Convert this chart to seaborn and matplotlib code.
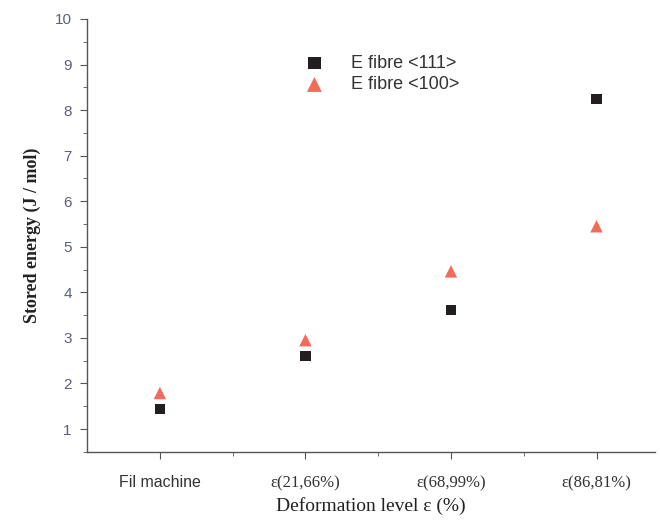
import pandas as pd
import numpy as np
import matplotlib.pyplot as plt
from matplotlib.ticker import MultipleLocator, FixedLocator
import seaborn as sns

# Data
levels = ['Fil machine', 'ε(21,66%)', 'ε(68,99%)', 'ε(86,81%)']
e_111 = [1.44, 2.60, 3.61, 8.25]
e_100 = [1.79, 2.95, 4.46, 5.45]
series = ['E fibre <111>', 'E fibre <100>']

pos = np.arange(1, len(levels) + 1)
df = pd.DataFrame({
    'pos': np.concatenate([pos, pos]),
    'energy': e_111 + e_100,
    'series': [series[0]] * len(levels) + [series[1]] * len(levels),
})

sns.set_style('ticks')
fig = plt.figure(figsize=(6.6, 5.26), dpi=100)
ax = fig.add_axes([0.132, 0.141, 0.86, 0.823])

styles = {series[0]: ('#231f20', 's', 55), series[1]: ('#f26b5b', '^', 80)}
for name in series:
    color, marker, size = styles[name]
    sns.scatterplot(data=df[df['series'] == name], x='pos', y='energy',
                    color=color, marker=marker, s=size, edgecolor='none',
                    label=name, ax=ax)

ax.set_xlim(0.5, 4.4)
ax.set_ylim(0.5, 10)
ax.xaxis.set_major_locator(FixedLocator(pos))
ax.xaxis.set_minor_locator(FixedLocator([1.5, 2.5, 3.5]))
ax.set_xticklabels(levels)
ax.set_yticks(np.arange(1, 11))
ax.yaxis.set_minor_locator(MultipleLocator(0.5))

for s in ['top', 'right']:
    ax.spines[s].set_visible(False)
for s in ['left', 'bottom']:
    ax.spines[s].set_color('#555555')
    ax.spines[s].set_linewidth(1.0)

ax.tick_params(axis='both', which='major', length=5, color='#555555')
ax.tick_params(axis='both', which='minor', length=3, color='#555555')
ax.tick_params(axis='y', labelsize=11, labelcolor='#5a5f7a', pad=6)
ax.tick_params(axis='x', labelsize=12, labelcolor='#333333', pad=12)
for lbl in ax.get_yticklabels():
    lbl.set_family('Liberation Sans')
for i, lbl in enumerate(ax.get_xticklabels()):
    if i == 0:
        lbl.set_family('Liberation Sans')
        lbl.set_size(11.5)
    else:
        lbl.set_family('Liberation Serif')
        lbl.set_size(12)

ax.set_xlabel('Deformation level ε (%)', family='Liberation Serif',
              fontsize=14, color='#222222', labelpad=4)
ax.set_ylabel('Stored energy (J / mol)', family='Liberation Serif',
              fontsize=13, fontweight='bold', color='#222222', labelpad=10)

leg = ax.legend(loc='upper left', bbox_to_anchor=(0.34, 0.955), frameon=False,
                prop={'family': 'Liberation Sans', 'size': 13},
                handletextpad=1.0, labelspacing=0.25, markerscale=1.2)
for t in leg.get_texts():
    t.set_color('#333333')

plt.savefig('out.png', dpi=100)
plt.close()
